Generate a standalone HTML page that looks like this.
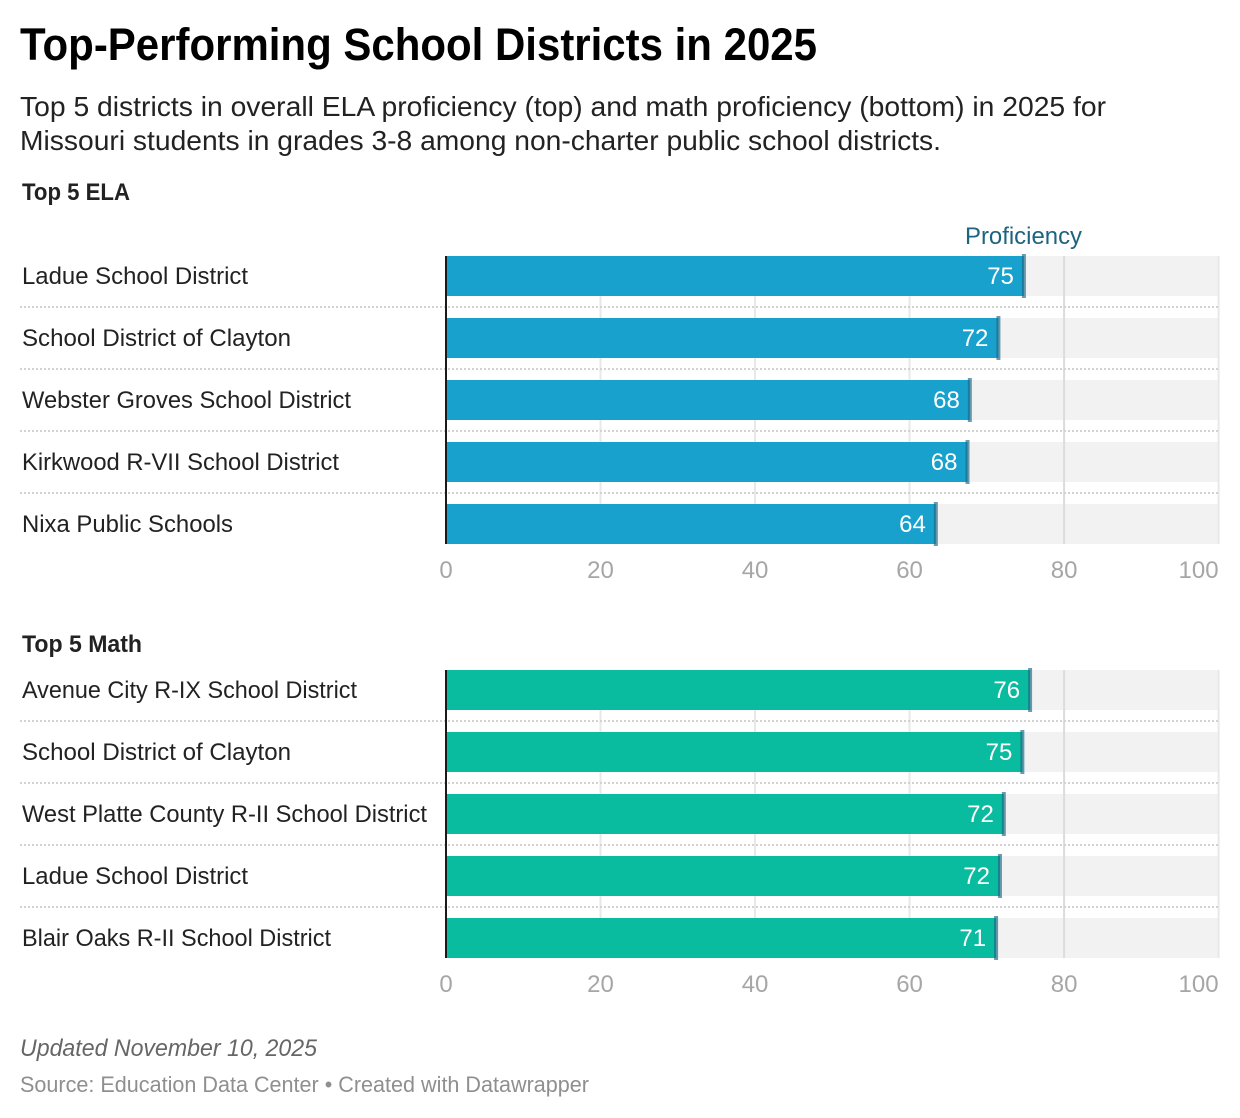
<!DOCTYPE html>
<html lang="en">
<head>
<meta charset="utf-8">
<title>Top-Performing School Districts in 2025</title>
<style>
  html, body { margin: 0; padding: 0; background: #fff; }
  body { width: 1240px; height: 1118px; overflow: hidden; }
  svg { display: block; }
  text { font-family: "Liberation Sans", sans-serif; }
</style>
</head>
<body>
<svg id="chart" xmlns="http://www.w3.org/2000/svg" width="1240" height="1118" viewBox="0 0 1240 1118">
  <text x="20" y="60" font-size="45" font-weight="700" fill="#000" textLength="797" lengthAdjust="spacingAndGlyphs">Top-Performing School Districts in 2025</text>
  <text x="20" y="116" font-size="27.5" fill="#222" textLength="1086" lengthAdjust="spacingAndGlyphs">Top 5 districts in overall ELA proficiency (top) and math proficiency (bottom) in 2025 for</text>
  <text x="20" y="150" font-size="27.5" fill="#222" textLength="921" lengthAdjust="spacingAndGlyphs">Missouri students in grades 3-8 among non-charter public school districts.</text>
  <text x="22" y="200" font-size="24" font-weight="700" fill="#222" textLength="108" lengthAdjust="spacingAndGlyphs">Top 5 ELA</text>
  <text x="965" y="244" font-size="24.5" fill="#1d6480" textLength="117" lengthAdjust="spacingAndGlyphs">Proficiency</text>
  <text x="22" y="652" font-size="24" font-weight="700" fill="#222" textLength="120" lengthAdjust="spacingAndGlyphs">Top 5 Math</text>
  <text x="20" y="1056" font-size="24" font-style="italic" fill="#666" textLength="297" lengthAdjust="spacingAndGlyphs">Updated November 10, 2025</text>
  <text x="20" y="1092" font-size="22.5" fill="#8f8f8f" textLength="569" lengthAdjust="spacingAndGlyphs">Source: Education Data Center • Created with Datawrapper</text>
</svg>
<script>
var axisTicks = [0, 20, 40, 60, 80, 100];

var elaCategories = ["Ladue School District", "School District of Clayton", "Webster Groves School District", "Kirkwood R-VII School District", "Nixa Public Schools"];
var elaValues = [74.8, 71.5, 67.8, 67.5, 63.4];
var elaLabels = ["75", "72", "68", "68", "64"];

var mathCategories = ["Avenue City R-IX School District", "School District of Clayton", "West Platte County R-II School District", "Ladue School District", "Blair Oaks R-II School District"];
var mathValues = [75.6, 74.6, 72.2, 71.7, 71.2];
var mathLabels = ["76", "75", "72", "72", "71"];

var svg = document.getElementById('chart');
var NS = 'http://www.w3.org/2000/svg';
var X0 = 446, X100 = 1218.6, BAR_H = 40, STEP = 62;

/* Typography fit: rendered text width for each district name */
function fitWidth(name) {
  switch (name) {
    case "Ladue School District": return 226;
    case "School District of Clayton": return 269;
    case "Webster Groves School District": return 329;
    case "Kirkwood R-VII School District": return 317;
    case "Nixa Public Schools": return 211;
    case "Avenue City R-IX School District": return 335;
    case "West Platte County R-II School District": return 405;
    case "Blair Oaks R-II School District": return 309;
  }
  return null;
}

function xScale(v) { return X0 + (X100 - X0) * v / 100; }
function yBand(top, i) { return top + i * STEP; }

function make(tag, attrs, parent) {
  var el = document.createElementNS(NS, tag);
  for (var k in attrs) el.setAttribute(k, attrs[k]);
  (parent || svg).appendChild(el);
  return el;
}

function drawPanel(prefix, top, categories, values, labels, color) {
  var n = categories.length;
  var bottom = yBand(top, n - 1) + BAR_H;
  var g = make('g', {});
  
  

  categories.forEach(function (c, i) {
    var y = yBand(top, i);
    var bg = make('rect', { x: X0, y: y, width: X100 - X0, height: BAR_H, fill: '#f2f2f2' }, g);
    
    
  });

  axisTicks.forEach(function (t) {
    if (t === 0) return;
    var grid = make('rect', { x: xScale(t) - 1, y: top, width: 2, height: bottom - top, fill: t === 80 ? '#dcdcdc' : '#e6e6e6', opacity: t === 80 ? 1 : 0.9 }, g);
    
    
  });

  categories.forEach(function (c, i) {
    if (i === n - 1) return;
    var y = yBand(top, i) + BAR_H + 11;
    var sep = make('line', { x1: 20, x2: X100, y1: y, y2: y, stroke: '#d2d2d2', 'stroke-width': 2, 'stroke-dasharray': '2 2' }, g);
    
    
  });

  categories.forEach(function (c, i) {
    var y = yBand(top, i);
    var end = xScale(values[i]);

    var bar = make('rect', { x: X0, y: y, width: end - X0, height: BAR_H, fill: color }, g);
    
    

    var marker = make('rect', { x: end - 2, y: y - 2, width: 4, height: BAR_H + 4, fill: '#1a6784', opacity: 0.66 }, g);
    
    

    var val = make('text', { x: end - 10, y: y + 28, 'font-size': 24, fill: '#fff', 'text-anchor': 'end' }, g);
    val.textContent = labels[i];
    
    

    var name = make('text', { x: 22, y: y + 28, 'font-size': 24, fill: '#222' }, g);
    name.textContent = c;
    var w = fitWidth(c);
    if (w) {
      name.setAttribute('textLength', w);
      name.setAttribute('lengthAdjust', 'spacingAndGlyphs');
    }
    
    
  });

  var axis = make('rect', { x: X0 - 1, y: top, width: 2, height: bottom - top, fill: '#1a1a1a' }, g);
  
  

  axisTicks.forEach(function (t) {
    var anchor = t === 100 ? 'end' : 'middle';
    var tick = make('text', { x: xScale(t), y: bottom + 34, 'font-size': 24, fill: '#a6a6a6', 'text-anchor': anchor }, g);
    tick.textContent = String(t);
    
    
  });
}

drawPanel('ela', 256, elaCategories, elaValues, elaLabels, '#18a1cd');
drawPanel('math', 670, mathCategories, mathValues, mathLabels, '#09bb9f');
</script>
</body>
</html>
